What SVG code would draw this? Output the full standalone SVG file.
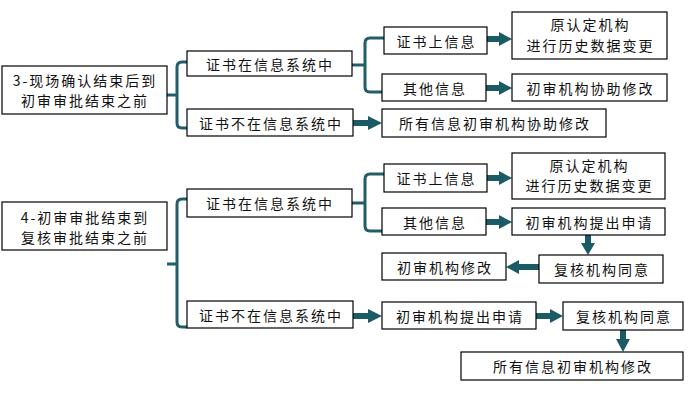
<svg xmlns="http://www.w3.org/2000/svg" width="700" height="394" viewBox="0 0 700 394">
<defs>
<style>
rect.b{fill:#fff;stroke:#000;stroke-width:1.2}
text{font-family:"Noto Sans CJK SC","Noto Sans",sans-serif;font-size:14px;letter-spacing:2px;text-anchor:middle;dominant-baseline:central;fill:#111}
.brace{fill:none;stroke:#215e6a;stroke-width:3;stroke-linejoin:round}
.arr{fill:#1b5b66}
</style>
</defs>
<rect width="700" height="394" fill="#fff"/>
<g id="connectors">
<path class="brace" d="M167 95H177M187 62H182Q177 62 177 67V123Q177 128 182 128H187"/>
<path class="brace" d="M352 65H365M384 38H370Q365 38 365 43V87Q365 92 370 92H382"/>
<path class="brace" d="M167 264H177M187 199H182Q177 199 177 204V322Q177 327 182 327H187"/>
<path class="brace" d="M352 203H365M384 174H370Q365 174 365 179V226Q365 231 370 231H382"/>
<path class="arr" d="M487 36H499V32L512 39L499 46V42H487Z"/>
<path class="arr" d="M486 85H499V81L512 88L499 95V91H486Z"/>
<path class="arr" d="M353 120H368V116L382 123L368 130V126H353Z"/>
<path class="arr" d="M487 175H499V171L512 178L499 185V181H487Z"/>
<path class="arr" d="M486 219H499V215L512 222L499 229V225H486Z"/>
<path class="arr" d="M585 235V243H581L588 255L595 243H591V235Z"/>
<path class="arr" d="M539 264H519V260L506 267L519 274V270H539Z"/>
<path class="arr" d="M353 313H368V309L382 316L368 323V319H353Z"/>
<path class="arr" d="M536 313H550V309L563 316L550 323V319H536Z"/>
<path class="arr" d="M620 330V339H616L623 352L630 339H626V330Z"/>
</g>
<g id="n3"><rect class="b" x="2" y="66" width="165" height="48"/><text x="85" y="80">3-现场确认结束后到</text><text x="85" y="100">初审审批结束之前</text></g>
<g id="n3a"><rect class="b" x="187" y="51" width="165" height="25"/><text x="270" y="63.5">证书在信息系统中</text></g>
<g id="n3b"><rect class="b" x="187" y="109" width="166" height="27"/><text x="271" y="122.5">证书不在信息系统中</text></g>
<g id="n3a1"><rect class="b" x="384" y="27" width="103" height="27"/><text x="436.5" y="40.5">证书上信息</text></g>
<g id="n3a2"><rect class="b" x="382" y="74" width="104" height="27"/><text x="435" y="87.5">其他信息</text></g>
<g id="n3a1r"><rect class="b" x="512" y="12" width="155" height="47"/><text x="590.5" y="24">原认定机构</text><text x="590.5" y="45">进行历史数据变更</text></g>
<g id="n3a2r"><rect class="b" x="512" y="74" width="155" height="27"/><text x="590.5" y="87.5">初审机构协助修改</text></g>
<g id="n3br"><rect class="b" x="382" y="109" width="224" height="28"/><text x="495" y="123">所有信息初审机构协助修改</text></g>
<g id="n4"><rect class="b" x="2" y="202" width="165" height="48"/><text x="85" y="217">4-初审审批结束到</text><text x="85" y="237">复核审批结束之前</text></g>
<g id="n4a"><rect class="b" x="187" y="189" width="165" height="28"/><text x="270" y="203">证书在信息系统中</text></g>
<g id="n4b"><rect class="b" x="187" y="301" width="166" height="27"/><text x="271" y="314.5">证书不在信息系统中</text></g>
<g id="n4a1"><rect class="b" x="384" y="164" width="103" height="28"/><text x="436.5" y="178">证书上信息</text></g>
<g id="n4a2"><rect class="b" x="382" y="208" width="104" height="27"/><text x="435" y="221.5">其他信息</text></g>
<g id="n4a1r"><rect class="b" x="512" y="153" width="153" height="46"/><text x="589.5" y="165">原认定机构</text><text x="589.5" y="185">进行历史数据变更</text></g>
<g id="n4a2r"><rect class="b" x="512" y="208" width="153" height="27"/><text x="589.5" y="221.5">初审机构提出申请</text></g>
<g id="n4a2f"><rect class="b" x="539" y="255" width="124" height="28"/><text x="602" y="269">复核机构同意</text></g>
<g id="n4a2m"><rect class="b" x="382" y="253" width="124" height="27"/><text x="445" y="266.5">初审机构修改</text></g>
<g id="n4b1"><rect class="b" x="382" y="302" width="154" height="27"/><text x="460" y="315.5">初审机构提出申请</text></g>
<g id="n4b2"><rect class="b" x="563" y="302" width="120" height="28"/><text x="624" y="316">复核机构同意</text></g>
<g id="n4b3"><rect class="b" x="461" y="352" width="222" height="28"/><text x="573" y="366">所有信息初审机构修改</text></g>
</svg>
